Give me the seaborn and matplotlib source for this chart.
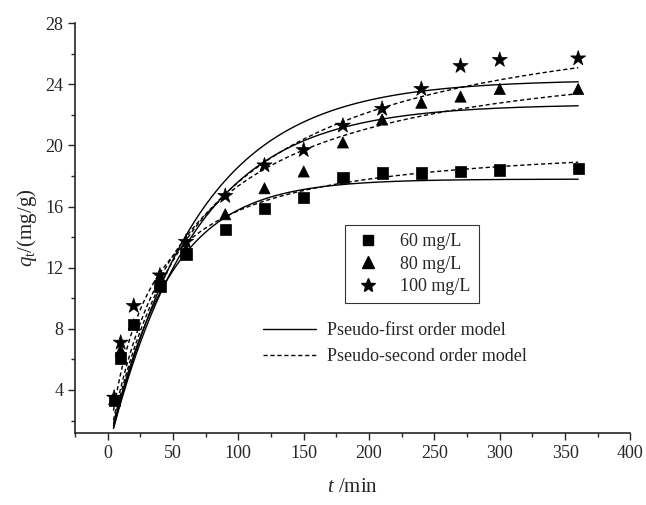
import numpy as np
import pandas as pd
import matplotlib.pyplot as plt
from matplotlib.ticker import MultipleLocator
from matplotlib.lines import Line2D
import seaborn as sns

# data
t_min = [5, 10, 20, 40, 60, 90, 120, 150, 180, 210, 240, 270, 300, 360]
q_60 = [3.3, 6.1, 8.3, 10.8, 12.9, 14.5, 15.9, 16.6, 17.9, 18.2, 18.2, 18.3, 18.4, 18.5]
q_80 = [3.4, 6.6, 8.3, 11.0, 13.2, 15.5, 17.2, 18.3, 20.2, 21.7, 22.8, 23.2, 23.7, 23.7]
q_100 = [3.5, 7.1, 9.5, 11.5, 13.7, 16.7, 18.7, 19.7, 21.3, 22.4, 23.7, 25.2, 25.6, 25.7]
labels = ["60 mg/L", "80 mg/L", "100 mg/L"]

# fitted model parameters (estimated from the drawn curves)
pfo_qe = [17.8, 22.7, 24.3]
pfo_k = [0.0218, 0.0150, 0.0145]
pso_qe = [20.5, 27.0, 30.0]
pso_k = [0.033 / 20.5, 0.018 / 27.0, 0.0142 / 30.0]

plt.rcParams["mathtext.fontset"] = "custom"
plt.rcParams["mathtext.rm"] = "Liberation Serif"
plt.rcParams["mathtext.it"] = "Liberation Serif:italic"
sns.set_style("ticks")
plt.rcParams["font.family"] = ["Liberation Serif", "DejaVu Sans"]

pts = pd.DataFrame({
    "t": t_min * 3,
    "q": q_60 + q_80 + q_100,
    "conc": [lab for lab in labels for _ in t_min],
})

# model curves
t_fit = np.linspace(4.5, 360, 300)
rows = []
for lab, qe, k in zip(labels, pfo_qe, pfo_k):
    rows.append(pd.DataFrame({"t": t_fit, "q": qe * (1 - np.exp(-k * t_fit)), "conc": lab, "model": "PFO"}))
for lab, qe, k in zip(labels, pso_qe, pso_k):
    rows.append(pd.DataFrame({"t": t_fit, "q": qe ** 2 * k * t_fit / (1 + qe * k * t_fit), "conc": lab, "model": "PSO"}))
fits = pd.concat(rows, ignore_index=True)

fig = plt.figure(figsize=(6.46, 5.05), dpi=100)
ax = fig.add_axes([0.116, 0.143, 0.860, 0.811])

sns.lineplot(data=fits[fits.model == "PFO"], x="t", y="q", units="conc", estimator=None,
             color="black", linewidth=1.0, ax=ax, legend=False)
sns.lineplot(data=fits[fits.model == "PSO"], x="t", y="q", units="conc", estimator=None,
             color="black", linewidth=1.0, linestyle=(0, (3, 2)), ax=ax, legend=False)

sns.scatterplot(data=pts, x="t", y="q", style="conc", markers={"60 mg/L": "s", "80 mg/L": "^", "100 mg/L": "*"},
                color="black", s=65, edgecolor="black", linewidth=0.5, ax=ax, legend=False, zorder=3)
# make the stars a bit bigger
ax.collections[-1].set_sizes([65 if c != "100 mg/L" else 130 for c in pts["conc"]])

ax.set_xlim(-25, 400)
ax.set_ylim(1.2, 28)
ax.xaxis.set_major_locator(MultipleLocator(50))
ax.xaxis.set_minor_locator(MultipleLocator(25))
ax.yaxis.set_minor_locator(MultipleLocator(2))
ax.set_yticks([4, 8, 12, 16, 20, 24, 28])
ax.tick_params(which="major", direction="out", length=5, width=1, labelsize=13)
ax.tick_params(which="minor", direction="out", length=3, width=1)
sns.despine(ax=ax)
for s in ["left", "bottom"]:
    ax.spines[s].set_linewidth(1.2)

ax.set_xlabel("$t$ /min", fontsize=15, labelpad=12)
ax.set_ylabel("$q_{\\rm t}$/(mg/g)", fontsize=15, labelpad=4)

mk = [Line2D([], [], linestyle="none", marker=m, color="black", markersize=ms)
      for m, ms in zip(["s", "^", "*"], [7, 8, 10])]
leg1 = ax.legend(mk, labels, loc="upper left", bbox_to_anchor=(0.486, 0.507), frameon=True,
                 fontsize=13, fancybox=False, edgecolor="black", handletextpad=1.0,
                 handlelength=1.6, borderpad=0.45, labelspacing=0.3, borderaxespad=0)
leg1.get_frame().set_linewidth(0.8)
ax.add_artist(leg1)

ln = [Line2D([], [], color="black", linewidth=1.0),
      Line2D([], [], color="black", linewidth=1.0, linestyle=(0, (3, 2)))]
ax.legend(ln, ["Pseudo-first order model", "Pseudo-second order model"], loc="upper left",
          bbox_to_anchor=(0.31, 0.31), frameon=False, fontsize=13, handlelength=2.9,
          handletextpad=0.6, labelspacing=0.5)

fig.savefig("out.png", dpi=100)
